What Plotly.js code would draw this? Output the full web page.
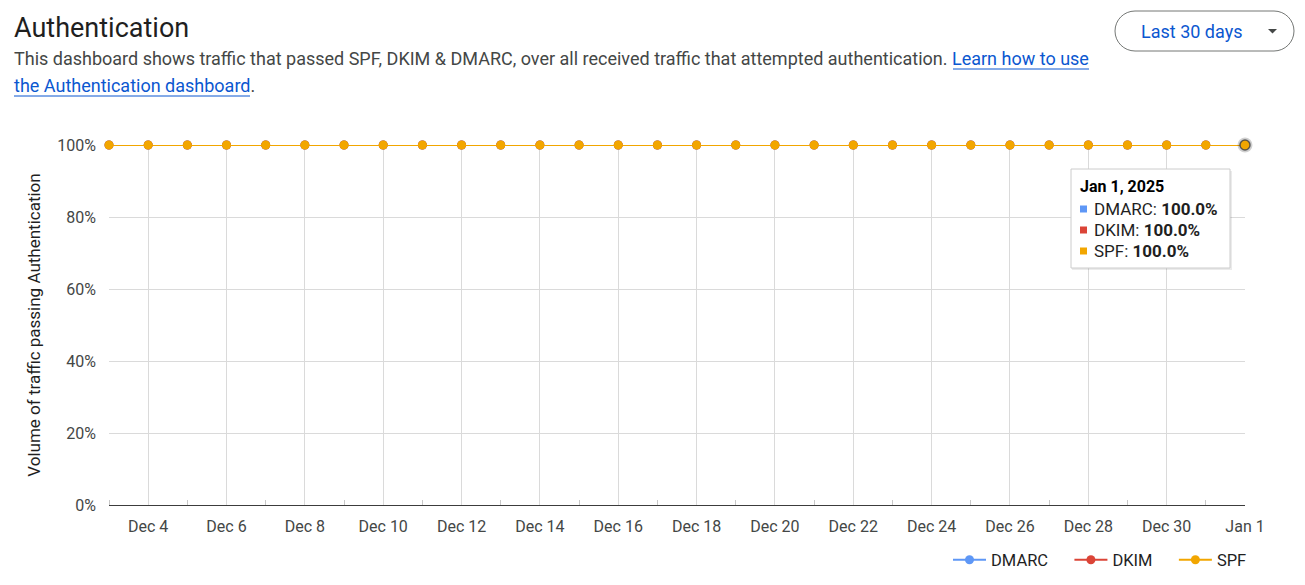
<!DOCTYPE html>
<html>
<head>
<meta charset="utf-8">
<script src="https://cdn.plot.ly/plotly-3.0.1.min.js"></script>
<style>
html,body{margin:0;padding:0;background:#fff;}
#chart{width:1305px;height:585px;}
</style>
</head>
<body>
<div id="chart"></div>
<script>
// ---- data ----
const dates = [
  '2024-12-03','2024-12-04','2024-12-05','2024-12-06','2024-12-07','2024-12-08',
  '2024-12-09','2024-12-10','2024-12-11','2024-12-12','2024-12-13','2024-12-14',
  '2024-12-15','2024-12-16','2024-12-17','2024-12-18','2024-12-19','2024-12-20',
  '2024-12-21','2024-12-22','2024-12-23','2024-12-24','2024-12-25','2024-12-26',
  '2024-12-27','2024-12-28','2024-12-29','2024-12-30','2024-12-31','2025-01-01'
];
const dmarc = [1,1,1,1,1,1,1,1,1,1,1,1,1,1,1,1,1,1,1,1,1,1,1,1,1,1,1,1,1,1];
const dkim  = [1,1,1,1,1,1,1,1,1,1,1,1,1,1,1,1,1,1,1,1,1,1,1,1,1,1,1,1,1,1];
const spf   = [1,1,1,1,1,1,1,1,1,1,1,1,1,1,1,1,1,1,1,1,1,1,1,1,1,1,1,1,1,1];
const seriesNames = ['DMARC','DKIM','SPF'];
const tooltipDate = 'Jan 1, 2025';

// ---- layout helpers (pixel -> paper) ----
const W = 1305, H = 585;
const mL = 109, mR = 60, mT = 145, mB = 80;
const pw = W - mL - mR, ph = H - mT - mB;
const px = v => (v - mL) / pw;
const py = v => (H - mB - v) / ph;

const FONT = 'Roboto, "Open Sans", Arial, sans-serif';
const colors = {DMARC:'#5e97f6', DKIM:'#db4437', SPF:'#f2a600'};
const PAD = '\u00a0\u00a0\u00a0\u00a0';

function mkTrace(name, ys, pad){
  return {
    type:'scatter', mode:'lines+markers', name:name + pad, x:dates, y:ys,
    line:{color:colors[name], width:2},
    marker:{color:colors[name], size:9},
    cliponaxis:false, hoverinfo:'skip'
  };
}
const last = dates.length - 1;
const traces = [
  mkTrace('DMARC', dmarc, PAD), mkTrace('DKIM', dkim, PAD), mkTrace('SPF', spf, ''),
  {type:'scatter', mode:'markers', x:[dates[last]], y:[spf[last]], showlegend:false,
   marker:{color:'rgba(0,0,0,0.18)', size:15}, cliponaxis:false, hoverinfo:'skip'},
  {type:'scatter', mode:'markers', x:[dates[last]], y:[spf[last]], showlegend:false,
   marker:{color:colors.SPF, size:10, line:{color:'rgba(70,70,70,0.85)', width:1.5}},
   cliponaxis:false, hoverinfo:'skip'}
];

// pill button path
function pill(x1,y1,x2,y2){
  const r = (y2-y1)/2, k = 0.5523*r;
  const P = (x,y)=> px(x)+','+py(y);
  return 'M'+P(x1+r,y1)+' L'+P(x2-r,y1)+
    ' C'+P(x2-r+k,y1)+' '+P(x2,y1+r-k)+' '+P(x2,y1+r)+
    ' C'+P(x2,y1+r+k)+' '+P(x2-r+k,y2)+' '+P(x2-r,y2)+
    ' L'+P(x1+r,y2)+
    ' C'+P(x1+r-k,y2)+' '+P(x1,y1+r+k)+' '+P(x1,y1+r)+
    ' C'+P(x1,y1+r-k)+' '+P(x1+r-k,y1)+' '+P(x1+r,y1)+' Z';
}

const shapes = [
  {type:'path', xref:'paper', yref:'paper', path:pill(1115,11,1294,51),
   line:{color:'#747775', width:1}, fillcolor:'rgba(0,0,0,0)'},
  {type:'path', xref:'paper', yref:'paper',
   path:'M'+px(1268)+','+py(29)+' L'+px(1277)+','+py(29)+' L'+px(1272.5)+','+py(33.5)+' Z',
   line:{width:0}, fillcolor:'#444746'},
  // link underlines
  {type:'line', xref:'paper', yref:'paper', x0:px(953), x1:px(1089), y0:py(69), y1:py(69),
   line:{color:'#0b57d0', width:1}},
  {type:'line', xref:'paper', yref:'paper', x0:px(14), x1:px(250), y0:py(96), y1:py(96),
   line:{color:'#0b57d0', width:1}},
  // tooltip shadow + box
  {type:'rect', xref:'paper', yref:'paper', x0:px(1072), x1:px(1232), y0:py(171), y1:py(270),
   line:{width:0}, fillcolor:'rgba(0,0,0,0.08)'},
  {type:'rect', xref:'paper', yref:'paper', x0:px(1071), x1:px(1230), y0:py(169), y1:py(268),
   line:{color:'#cccccc', width:1}, fillcolor:'#ffffff'}
];
const ttRows = [[209,'DMARC'],[230,'DKIM'],[251,'SPF']];
const vals = {DMARC:dmarc, DKIM:dkim, SPF:spf};
ttRows.forEach(([y,n])=>{
  shapes.push({type:'rect', xref:'paper', yref:'paper', x0:px(1080), x1:px(1087),
    y0:py(y-3.5), y1:py(y+3.5), line:{width:0}, fillcolor:colors[n]});
});

const annotations = [
  {xref:'paper', yref:'paper', x:px(12), y:py(28), xanchor:'left', yanchor:'middle', showarrow:false,
   text:'Authentication', font:{family:FONT, size:27, color:'#1f1f1f'}},
  {xref:'paper', yref:'paper', x:px(12), y:py(59), xanchor:'left', yanchor:'middle', showarrow:false,
   text:'This dashboard shows traffic that passed SPF, DKIM &amp; DMARC, over all received traffic that attempted authentication. <span style="color:#0b57d0">Learn how to use</span>',
   font:{family:FONT, size:18, color:'#444746'}},
  {xref:'paper', yref:'paper', x:px(12), y:py(86), xanchor:'left', yanchor:'middle', showarrow:false,
   text:'<span style="color:#0b57d0">the Authentication dashboard</span>.',
   font:{family:FONT, size:18, color:'#444746'}},
  {xref:'paper', yref:'paper', x:px(1191), y:py(31), xanchor:'center', yanchor:'middle', showarrow:false,
   text:'Last 30 days', font:{family:FONT, size:18, color:'#0b57d0'}},
  {xref:'paper', yref:'paper', x:px(1078), y:py(186), xanchor:'left', yanchor:'middle', showarrow:false,
   text:'<b>'+tooltipDate+'</b>', font:{family:FONT, size:16, color:'#000'}}
];
ttRows.forEach(([y,n])=>{
  annotations.push({xref:'paper', yref:'paper', x:px(1092), y:py(y), xanchor:'left', yanchor:'middle',
    showarrow:false, text:n+': <b>'+(vals[n][last]*100).toFixed(1)+'%</b>',
    font:{family:FONT, size:17, color:'#1f1f1f'}});
});

const layout = {
  width:W, height:H,
  margin:{l:mL, r:mR, t:mT, b:mB, pad:0, autoexpand:false},
  paper_bgcolor:'#fff', plot_bgcolor:'#fff',
  font:{family:FONT, size:16, color:'#444746'},
  showlegend:true,
  legend:{orientation:'h', x:px(1252), xanchor:'right', y:py(560), yanchor:'middle',
    itemwidth:33,
    font:{family:FONT, size:16.5, color:'#1f1f1f'}, bgcolor:'rgba(0,0,0,0)'},
  xaxis:{
    type:'date', range:[dates[0], dates[last]],
    tick0:'2024-12-04', dtick:172800000, tickformat:'%b %-d',
    showgrid:true, gridcolor:'#dadada', gridwidth:1,
    ticks:'', ticklabelstandoff:7,
    showline:true, linecolor:'#3c3c3c', linewidth:1,
    zeroline:false, fixedrange:true,
    tickfont:{family:FONT, size:16, color:'#444746'},
    minor:{tick0:'2024-12-03', dtick:172800000, ticks:'inside', ticklen:5, tickcolor:'#c8c8c8', showgrid:false}
  },
  yaxis:{
    range:[0,1], dtick:0.2, tickformat:'.0%',
    showgrid:true, gridcolor:'#dadada', gridwidth:1,
    zeroline:false, ticks:'', ticklabelstandoff:12, fixedrange:true,
    tickfont:{family:FONT, size:16, color:'#444746'},
    title:{text:'Volume of traffic passing Authentication', standoff:12,
      font:{family:FONT, size:17, color:'#1f1f1f'}}
  },
  shapes:shapes,
  annotations:annotations,
  hovermode:false
};

Plotly.newPlot('chart', traces, layout, {displayModeBar:false, staticPlot:true});
</script>
</body>
</html>
